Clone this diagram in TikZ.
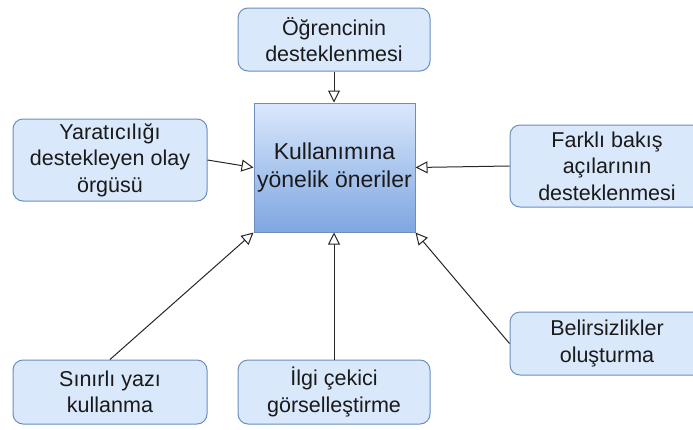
\documentclass[tikz,border=0pt]{standalone}
\usepackage{fontspec}
\setmainfont{Liberation Sans}
\usepackage{tikz}
\usetikzlibrary{arrows.meta}
\definecolor{boxfill}{HTML}{DAE8FC}
\definecolor{boxline}{HTML}{6C8EBF}
\definecolor{gradlow}{HTML}{7EA6E0}
\definecolor{txtcol}{HTML}{1A1A1A}
\tikzset{
  idea/.style={draw=boxline,fill=boxfill,rounded corners=10pt,line width=1pt,inner sep=0pt,
    align=center,text=txtcol,font=\fontsize{21.5}{26.5}\selectfont},
  hub/.style={draw=boxline,top color=boxfill,bottom color=gradlow,line width=1pt,inner sep=0pt,
    align=center,text=txtcol,font=\fontsize{23}{27.5}\selectfont},
  feed/.style={draw=black!85,line width=1pt,-{Triangle[open,fill=white,length=12pt,width=12pt]}}
}
\begin{document}
\begin{tikzpicture}[x=1pt,y=-1pt]
            \useasboundingbox (0,0) rectangle (693,429);
            \node[hub,minimum width=161pt,minimum height=129pt] (oneri) at (334.5,167.5) {Kullanımına\\yönelik öneriler};
            \node[idea,minimum width=192pt,minimum height=63pt] (ogrenci) at (334,39.5) {Öğrencinin\\desteklenmesi};
            \node[idea,minimum width=194pt,minimum height=82pt] (yarat) at (110,160) {Yaratıcılığı\\destekleyen olay\\örgüsü};
            \node[idea,minimum width=194pt,minimum height=82pt] (bakis) at (607,166) {Farklı bakış\\açılarının\\desteklenmesi};
            \node[idea,minimum width=194pt,minimum height=64pt] (yazi) at (110,392) {Sınırlı yazı\\kullanma};
            \node[idea,minimum width=192pt,minimum height=64pt] (gorsel) at (334,392) {İlgi çekici\\görselleştirme};
            \node[idea,minimum width=194pt,minimum height=63pt] (belirsiz) at (607,343.5) {Belirsizlikler\\oluşturma};
            \draw[feed] (ogrenci.south) -- (ogrenci.south |- oneri.north);
            \draw[feed] (yarat.east) -- (oneri.west);
            \draw[feed] (bakis.west) -- (oneri.east);
            \draw[feed] (yazi.north) -- (oneri.south west);
            \draw[feed] (gorsel.north) -- (gorsel.north |- oneri.south);
            \draw[feed] (belirsiz.west) -- (oneri.south east);
        \end{tikzpicture}
\end{document}
